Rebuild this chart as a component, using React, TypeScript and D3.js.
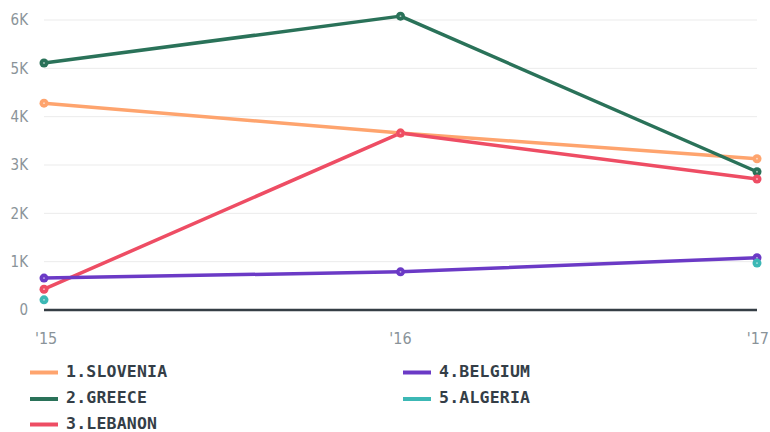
import React from "react";
import * as d3 from "d3";

const years = ["'15", "'16", "'17"];
const slovenia = [4280, 3660, 3130];
const greece = [5110, 6080, 2860];
const lebanon = [430, 3660, 2710];
const belgium = [660, 790, 1080];
const algeria: (number | null)[] = [210, null, 970];
const yTicks = [0, 1000, 2000, 3000, 4000, 5000, 6000];

const series = [
  { name: "1.SLOVENIA", values: slovenia as (number | null)[], color: "#fea46e" },
  { name: "2.GREECE", values: greece as (number | null)[], color: "#2a7259" },
  { name: "3.LEBANON", values: lebanon as (number | null)[], color: "#ee4d64" },
  { name: "4.BELGIUM", values: belgium as (number | null)[], color: "#6b3ac6" },
  { name: "5.ALGERIA", values: algeria, color: "#3cb8b5" },
];

export default function App() {
  const W = 770, H = 432;
  const x = d3.scalePoint<string>().domain(years).range([44, 757]);
  const y = d3.scaleLinear().domain([0, 6000]).range([310, 20]);
  const line = d3
    .line<number | null>()
    .defined((d) => d !== null)
    .x((_, i) => x(years[i]) as number)
    .y((d) => y(d as number));
  const fmt = (v: number) => (v === 0 ? "0" : `${v / 1000}K`);
  const legendPos = [
    [30, 371], [30, 397.5], [30, 423], [403, 371], [403, 397.5],
  ];
  const axisFont = "'DejaVu Sans Condensed', 'DejaVu Sans', sans-serif";
  return (
    <svg
      width={W}
      height={H}
      style={{ position: "absolute", left: 0, top: 0, background: "#fff" }}
    >
      {yTicks.map((t) => (
        <g key={t}>
          {t > 0 && (
            <line x1={44} x2={757} y1={y(t)} y2={y(t)} stroke="#ebebeb" strokeWidth={1} />
          )}
          <text
            x={28}
            y={y(t)}
            dy="0.36em"
            textAnchor="end"
            fill="#8a9399"
            fontFamily={axisFont}
            fontSize={15}
          >
            {fmt(t)}
          </text>
        </g>
      ))}
      <line x1={44} x2={757} y1={310} y2={310} stroke="#353e45" strokeWidth={2.5} />
      {years.map((yr, i) => (
        <text
          key={yr}
          x={x(yr) as number}
          y={344}
          textAnchor={i === 0 ? "start" : i === years.length - 1 ? "end" : "middle"}
          dx={i === 0 ? -9 : i === years.length - 1 ? 12 : 0}
          fill="#8a9399"
          fontFamily={axisFont}
          fontSize={16}
        >
          {yr}
        </text>
      ))}
      {series.map((s) => (
        <path
          key={s.name}
          d={line(s.values) || ""}
          fill="none"
          stroke={s.color}
          strokeWidth={3.5}
          strokeLinejoin="round"
        />
      ))}
      {series.map((s) =>
        s.values.map((v, i) =>
          v === null ? null : (
            <g key={s.name + i}>
              <circle cx={x(years[i]) as number} cy={y(v)} r={4.5} fill={s.color} />
              <circle cx={x(years[i]) as number} cy={y(v)} r={0.9} fill="#ffffff" opacity={0.6} />
            </g>
          )
        )
      )}
      {series.map((s, i) => (
        <g key={s.name} transform={`translate(${legendPos[i][0]},${legendPos[i][1]})`}>
          <line x1={0} x2={28} y1={1.5} y2={1.5} stroke={s.color} strokeWidth={4} />
          <text
            x={36}
            y={0}
            dy="0.36em"
            fill="#343e47"
            fontFamily="'DejaVu Sans Mono', monospace"
            fontWeight="bold"
            fontSize={16.5}
            letterSpacing={0.2}
          >
            {s.name}
          </text>
        </g>
      ))}
    </svg>
  );
}
